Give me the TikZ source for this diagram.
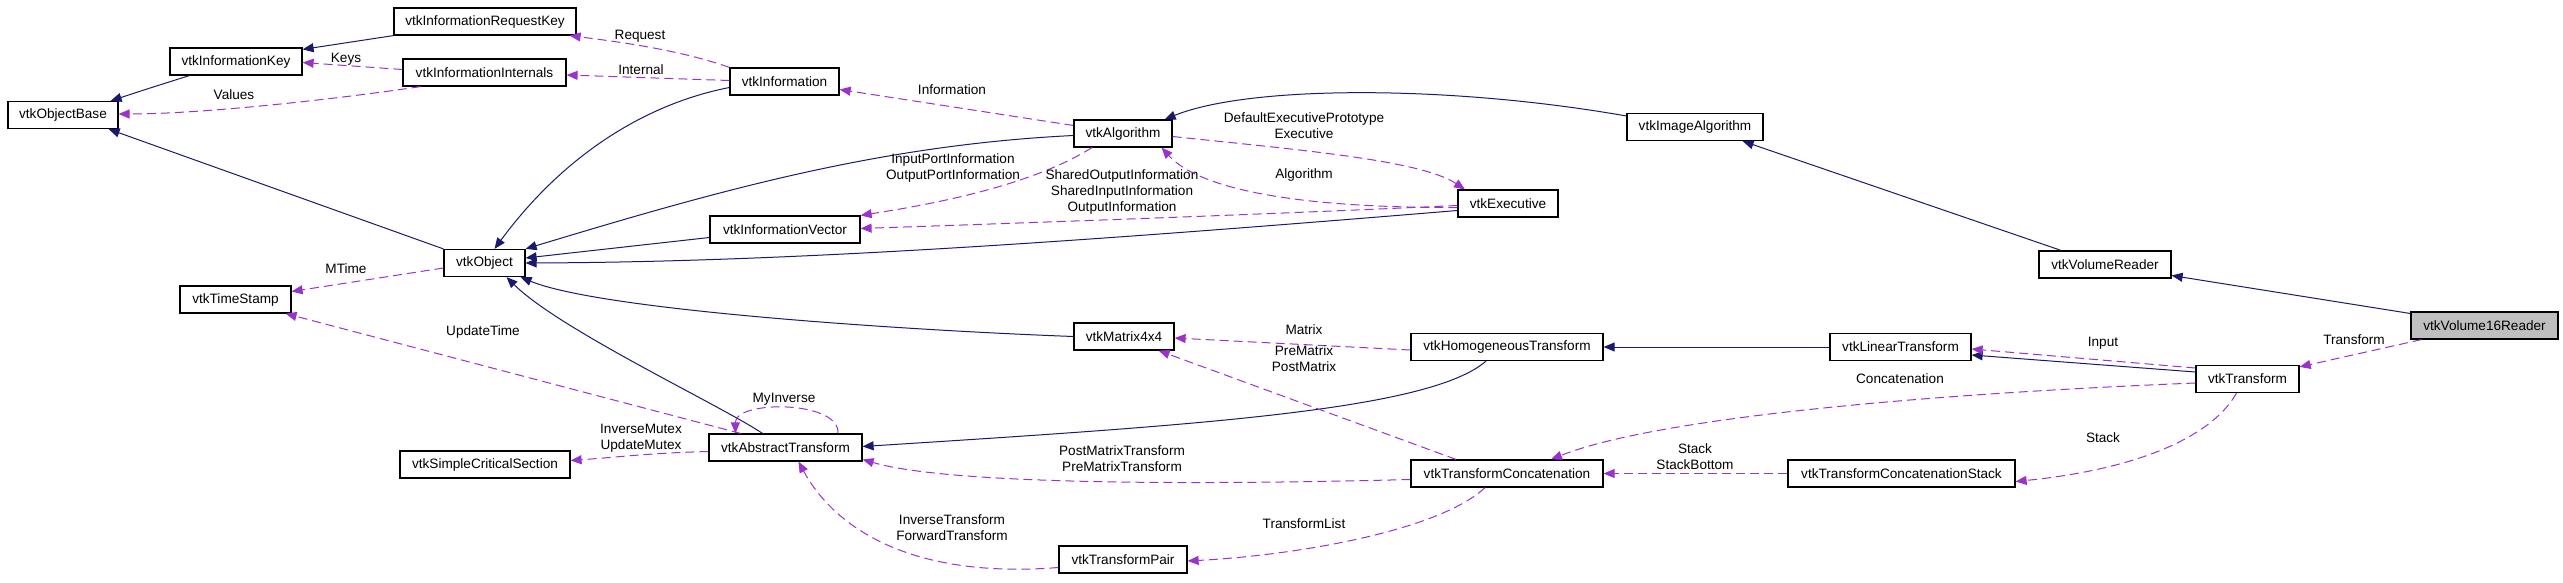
\documentclass[tikz,border=0pt]{standalone}
\usepackage{fontspec}
\setmainfont{Liberation Sans}
\usetikzlibrary{arrows.meta}
\definecolor{inhcol}{RGB}{25,25,112}
\definecolor{usecol}{RGB}{154,50,205}
\definecolor{selcol}{RGB}{191,191,191}
\newcommand{\dfont}{\fontsize{13.6pt}{16pt}\selectfont}
\tikzset{
  cls/.style={draw=black, line width=1.2pt, fill=white, minimum height=27pt, inner sep=0pt, font=\dfont},
  inh/.style={draw=inhcol, line width=1pt, -{Triangle[length=11pt,width=9pt]}},
  use/.style={draw=usecol, line width=1pt, dash pattern=on 9pt off 5pt, -{Triangle[length=11pt,width=9pt]}},
  lbl/.style={font=\dfont, align=center, inner sep=0pt, text=black},
}
\begin{document}
\begin{tikzpicture}[x=1pt,y=-1pt]
\useasboundingbox (0,0) rectangle (2563,583);
% nodes
\node[cls, minimum width=110pt] (objbase) at (63,115) {vtkObjectBase};
\node[cls, minimum width=132pt] (ikey) at (236,61.5) {vtkInformationKey};
\node[cls, minimum width=182pt] (reqkey) at (485,21.5) {vtkInformationRequestKey};
\node[cls, minimum width=163pt] (iint) at (484.5,72.5) {vtkInformationInternals};
\node[cls, minimum width=109pt] (info) at (784.5,81.5) {vtkInformation};
\node[cls, minimum width=98pt] (alg) at (1123,133.5) {vtkAlgorithm};
\node[cls, minimum width=136pt] (imgalg) at (1695,127) {vtkImageAlgorithm};
\node[cls, minimum width=100pt] (exec) at (1508,203.5) {vtkExecutive};
\node[cls, minimum width=150pt] (ivec) at (785,229.5) {vtkInformationVector};
\node[cls, minimum width=81pt] (obj) at (484.5,263) {vtkObject};
\node[cls, minimum width=111pt] (tstamp) at (235.5,299.5) {vtkTimeStamp};
\node[cls, minimum width=132pt] (vread) at (2105,264.5) {vtkVolumeReader};
\node[cls, minimum width=147pt, fill=selcol] (v16) at (2484.5,325.5) {vtkVolume16Reader};
\node[cls, minimum width=100pt] (mat) at (1124,336.5) {vtkMatrix4x4};
\node[cls, minimum width=192pt] (homog) at (1507,347) {vtkHomogeneousTransform};
\node[cls, minimum width=141pt] (lin) at (1900.5,347) {vtkLinearTransform};
\node[cls, minimum width=103pt] (xf) at (2247.5,379) {vtkTransform};
\node[cls, minimum width=153pt] (abst) at (785.5,447.5) {vtkAbstractTransform};
\node[cls, minimum width=170pt] (scs) at (485,464.5) {vtkSimpleCriticalSection};
\node[cls, minimum width=192pt] (concat) at (1507,473.5) {vtkTransformConcatenation};
\node[cls, minimum width=227pt] (stack) at (1901.5,473.5) {vtkTransformConcatenationStack};
\node[cls, minimum width=128pt] (pair) at (1123,559.5) {vtkTransformPair};

% inheritance
\draw[inh] ([xshift=20pt]ikey.south west) .. controls (150,88) .. ([xshift=-8pt]objbase.north east);
\draw[inh] (reqkey.south west) -- ([yshift=-2pt]ikey.north east);
\draw[inh] (obj.north west) -- ([xshift=-10pt]objbase.south east);
\draw[inh] ([yshift=-6pt]info.west) .. controls (640,105) and (560,160) .. ([xshift=10pt]obj.north);
\draw[inh] ([yshift=-2pt]alg.west) .. controls (880,145) and (720,190) .. (obj.north east);
\draw[inh] ([yshift=-8pt]ivec.west) -- ([yshift=5pt]obj.east);
\draw[inh] ([yshift=-7pt]exec.west) .. controls (1100,240) and (800,262) .. (obj.east);
\draw[inh] ([xshift=-23pt]abst.north) .. controls (720,405) and (560,330) .. ([xshift=22pt]obj.south);
\draw[inh] (mat.west) .. controls (900,330) and (600,310) .. ([xshift=-5pt]obj.south east);
\draw[inh] ([yshift=11pt]imgalg.west) .. controls (1450,85) and (1250,85) .. ([xshift=-8pt]alg.north east);
\draw[inh] ([xshift=-44pt]vread.north) -- ([xshift=-21pt]imgalg.south east);
\draw[inh] ([yshift=12pt]v16.west) -- ([yshift=-11pt]vread.east);
\draw[inh] (lin.west) -- (homog.east);
\draw[inh] ([yshift=7pt]xf.west) -- ([yshift=-8pt]lin.east);
\draw[inh] ([xshift=-21pt]homog.south) .. controls (1430,410) and (1200,425) .. ([yshift=1pt]abst.east);

% usage
\draw[use] ([yshift=3pt]iint.west) -- ([yshift=-1pt]ikey.east);
\node[lbl] (lkeys) at (346,59) {Keys};
\draw[use] ([xshift=-64pt]iint.south) .. controls (330,100) and (200,114) .. ([yshift=1pt]objbase.east);
\node[lbl] (lvalues) at (234,95) {Values};
\draw[use] (info.north west) .. controls (680,50) and (620,42) .. ([xshift=-7pt]reqkey.south east);
\node[lbl] (lrequest) at (640,36) {Request};
\draw[use] ([yshift=1pt]info.west) -- ([yshift=-2.5pt]iint.east);
\node[lbl] (linternal) at (641,70) {Internal};
\draw[use] ([yshift=8pt]alg.west) -- ([yshift=-8pt]info.east);
\node[lbl] (linformation) at (952,90) {Information};
\draw[use] ([xshift=-31pt]alg.south) .. controls (1040,180) and (960,200) .. (ivec.north east);
\node[lbl] (lport) at (953,168) {InputPortInformation\\OutputPortInformation};
\draw[use] ([yshift=-2pt]exec.west) .. controls (1250,215) and (1050,222) .. ([yshift=1pt]ivec.east);
\node[lbl] (lshared) at (1122,192) {SharedOutputInformation\\SharedInputInformation\\OutputInformation};
\draw[use] ([yshift=-4pt]exec.west) .. controls (1300,208) and (1200,190) .. ([xshift=-11pt]alg.south east);
\node[lbl] (lalgorithm) at (1304,175) {Algorithm};
\draw[use] ([yshift=-3pt]alg.east) .. controls (1300,150) and (1420,160) .. ([xshift=-43pt]exec.north);
\node[lbl] (lexec) at (1304,126) {DefaultExecutivePrototype\\Executive};
\draw[use] ([yshift=-5pt]obj.west) -- ([yshift=8pt]tstamp.east);
\node[lbl] (lmtime) at (346,269) {MTime};
\draw[use] ([xshift=-45pt]abst.north) -- ([xshift=-6pt]tstamp.south east);
\node[lbl] (lupdate) at (483,332) {UpdateTime};
\draw[use] ([yshift=-4pt]abst.west) .. controls (650,453) and (620,457) .. ([yshift=4pt]scs.east);
\node[lbl] (lmutex) at (641,438) {InverseMutex\\UpdateMutex};
\draw[use] ([xshift=52.5pt]abst.north) .. controls (840,400) and (735,400) .. ([xshift=-50pt]abst.north);
\node[lbl] (lmyinv) at (784,399) {MyInverse};
\draw[use] ([yshift=-6pt]concat.west) .. controls (1200,485) and (950,485) .. ([yshift=-12pt]abst.east);
\node[lbl] (lprepost) at (1122,459) {PostMatrixTransform\\PreMatrixTransform};
\draw[use] ([yshift=-8pt]pair.west) .. controls (900,580) and (830,520) .. ([xshift=13pt]abst.south);
\node[lbl] (linvfwd) at (952,528) {InverseTransform\\ForwardTransform};
\draw[use] ([xshift=-22pt]concat.south) .. controls (1440,530) and (1300,555) .. ([yshift=-1.5pt]pair.east);
\node[lbl] (ltlist) at (1304,524) {TransformList};
\draw[use] ([yshift=-3pt]homog.west) -- ([yshift=-1.5pt]mat.east);
\node[lbl] (lmatrix) at (1304,330) {Matrix};
\draw[use] ([xshift=-51pt]concat.north) -- ([xshift=-16pt]mat.south east);
\node[lbl] (lprematrix) at (1304,359) {PreMatrix\\PostMatrix};
\draw[use] ([yshift=11pt]xf.west) -- ([yshift=-2pt]lin.east);
\node[lbl] (linput) at (2103,343) {Input};
\draw[use] ([yshift=-4pt]xf.west) .. controls (1900,395) and (1650,420) .. ([xshift=44pt]concat.north);
\node[lbl] (lconcat) at (1900,379) {Concatenation};
\draw[use] ([xshift=-11pt]xf.south) .. controls (2210,440) and (2130,470) .. ([yshift=-8pt]stack.east);
\node[lbl] (lstack) at (2103,438) {Stack};
\draw[use] (stack.west) -- (concat.east);
\node[lbl] (lstackb) at (1695,457) {Stack\\StackBottom};
\draw[use] ([xshift=11pt]v16.south west) -- ([yshift=-2pt]xf.north east);
\node[lbl] (ltransform) at (2354,340) {Transform};
\end{tikzpicture}
\end{document}
